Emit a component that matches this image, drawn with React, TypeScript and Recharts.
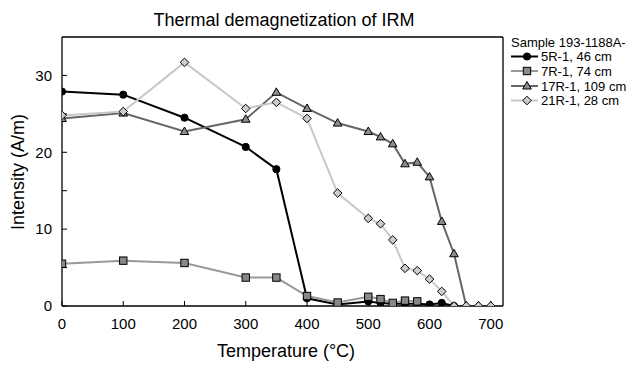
import React from 'react';
import { LineChart, Line, XAxis, YAxis, ReferenceLine } from 'recharts';

const temps5R = [0, 100, 200, 300, 350, 400, 450, 500, 520, 540, 560, 580, 600, 620, 640];
const vals5R = [27.9, 27.5, 24.5, 20.7, 17.8, 1.0, 0.2, 0.6, 0.4, 0.3, 0.3, 0.3, 0.2, 0.4, 0];

const temps7R = [0, 100, 200, 300, 350, 400, 450, 500, 520, 540, 560, 580];
const vals7R = [5.5, 5.9, 5.6, 3.7, 3.7, 1.3, 0.45, 1.2, 0.9, 0.4, 0.7, 0.6];

const temps17R = [0, 100, 200, 300, 350, 400, 450, 500, 520, 540, 560, 580, 600, 620, 640, 660, 680, 700];
const vals17R = [24.4, 25.1, 22.7, 24.3, 27.8, 25.7, 23.8, 22.7, 22.0, 21.1, 18.5, 18.7, 16.8, 11.0, 6.8, 0, 0, 0];

const temps21R = [0, 100, 200, 300, 350, 400, 450, 500, 520, 540, 560, 580, 600, 620, 640, 660, 680, 700];
const vals21R = [24.8, 25.3, 31.7, 25.7, 26.5, 24.4, 14.7, 11.4, 10.7, 8.6, 4.9, 4.6, 3.5, 1.9, 0, 0, 0, 0];

const xTicks = [0, 100, 200, 300, 400, 500, 600, 700];
const yTicks = [0, 5, 10, 15, 20, 25, 30];

const seriesNames = ['5R-1, 46 cm', '7R-1, 74 cm', '17R-1, 109 cm', '21R-1, 28 cm'];
const legendTitle = 'Sample 193-1188A-';
const chartTitle = 'Thermal demagnetization of IRM';
const xLabel = 'Temperature (°C)';
const yLabel = 'Intensity (A/m)';

const toRows = (t: number[], v: number[]) => t.map((x, i) => ({ t: x, v: v[i] }));
const d5R = toRows(temps5R, vals5R);
const d7R = toRows(temps7R, vals7R);
const d17R = toRows(temps17R, vals17R);
const d21R = toRows(temps21R, vals21R);

const FONT = '"Liberation Sans", Arial, Helvetica, sans-serif';

type Shape = 'circle' | 'square' | 'triangle' | 'diamond';

function Marker({ cx, cy, shape, fill }: { cx: number; cy: number; shape: Shape; fill: string }) {
  if (cx == null || cy == null || isNaN(cx) || isNaN(cy)) return null;
  if (shape === 'circle') return <circle cx={cx} cy={cy} r={3.6} fill={fill} stroke="#000" strokeWidth={1} />;
  if (shape === 'square')
    return <rect x={cx - 3.7} y={cy - 3.7} width={7.4} height={7.4} fill={fill} stroke="#000" strokeWidth={1} />;
  if (shape === 'triangle')
    return (
      <polygon
        points={`${cx},${cy - 4.5} ${cx + 4.3},${cy + 3} ${cx - 4.3},${cy + 3}`}
        fill={fill}
        stroke="#000"
        strokeWidth={1}
      />
    );
  return (
    <polygon
      points={`${cx},${cy - 4.3} ${cx + 4.3},${cy} ${cx},${cy + 4.3} ${cx - 4.3},${cy}`}
      fill={fill}
      stroke="#000"
      strokeWidth={1}
    />
  );
}

const styles = [
  { line: '#000000', fill: '#000000', shape: 'circle' as Shape, data: d5R },
  { line: '#999999', fill: '#888888', shape: 'square' as Shape, data: d7R },
  { line: '#666666', fill: '#8c8c8c', shape: 'triangle' as Shape, data: d17R },
  { line: '#c8c8c8', fill: '#cccccc', shape: 'diamond' as Shape, data: d21R },
];

export default function App() {
  const legendRowsY = [56.5, 71, 86, 100.5];
  return (
    <div style={{ position: 'absolute', left: 0, top: 0, width: 642, height: 369, background: '#fff' }}>
      <LineChart
        width={642}
        height={369}
        margin={{ top: 37, right: 139, bottom: 33, left: 22 }}
        style={{ fontFamily: FONT }}
      >
        <XAxis
          type="number"
          dataKey="t"
          domain={[0, 720]}
          ticks={xTicks}
          allowDataOverflow
          height={30}
          tickSize={-5}
          tickMargin={17}
          stroke="#000"
          axisLine={{ stroke: '#000', strokeWidth: 1.3 }}
          tickLine={{ stroke: '#000', strokeWidth: 1 }}
          tick={{ fill: '#000', fontSize: 15, fontFamily: FONT }}
        />
        <YAxis
          type="number"
          dataKey="v"
          domain={[0, 35]}
          ticks={yTicks}
          allowDataOverflow
          width={40}
          tickSize={-5}
          tickMargin={15}
          stroke="#000"
          axisLine={{ stroke: '#000', strokeWidth: 1.3 }}
          tickLine={{ stroke: '#000', strokeWidth: 1 }}
          tick={{ fill: '#000', fontSize: 15, fontFamily: FONT }}
          tickFormatter={(v: number) => (v % 10 === 0 ? String(v) : '')}
        />
        <ReferenceLine y={35} stroke="#000" strokeWidth={1.3} />
        <ReferenceLine x={720} stroke="#000" strokeWidth={1.3} />
        {styles.map((s, i) => (
          <Line
            key={i}
            data={s.data}
            dataKey="v"
            type="linear"
            stroke={s.line}
            strokeWidth={2}
            isAnimationActive={false}
            dot={(p: any) => <Marker key={`${i}-${p.index}`} cx={p.cx} cy={p.cy} shape={s.shape} fill={s.fill} />}
            activeDot={false}
          />
        ))}
      </LineChart>
      <svg
        width={642}
        height={369}
        style={{ position: 'absolute', left: 0, top: 0, pointerEvents: 'none', fontFamily: FONT }}
      >
        <text x={284} y={26} textAnchor="middle" fontSize={18} fill="#000">
          {chartTitle}
        </text>
        <text x={286} y={357} textAnchor="middle" fontSize={18} fill="#000">
          {xLabel}
        </text>
        <text
          x={0}
          y={0}
          transform="translate(24,172) rotate(-90)"
          textAnchor="middle"
          fontSize={18}
          fill="#000"
        >
          {yLabel}
        </text>
        <text x={511} y={47} fontSize={13} fill="#000">
          {legendTitle}
        </text>
        {styles.map((s, i) => (
          <g key={i}>
            <line x1={511} x2={538} y1={legendRowsY[i]} y2={legendRowsY[i]} stroke={s.line} strokeWidth={2} />
            <Marker cx={527} cy={legendRowsY[i]} shape={s.shape} fill={s.fill} />
            <text x={541} y={legendRowsY[i] + 4.6} fontSize={13} fill="#000">
              {seriesNames[i]}
            </text>
          </g>
        ))}
      </svg>
    </div>
  );
}
